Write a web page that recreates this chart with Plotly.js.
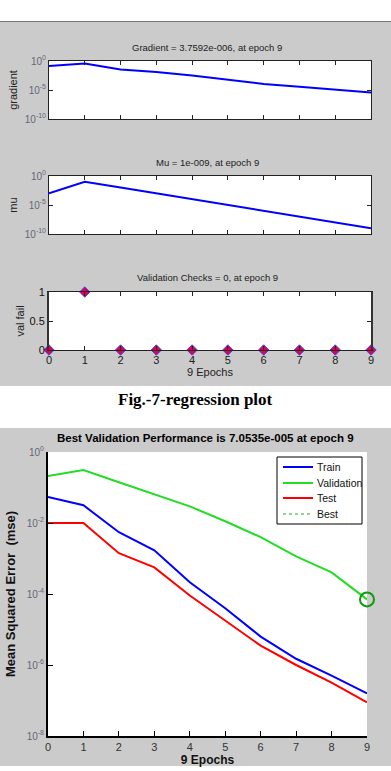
<!DOCTYPE html>
<html><head><meta charset="utf-8">
<script src="https://cdn.plot.ly/plotly-3.0.1.min.js"></script>
<style>html,body{margin:0;padding:0;background:#fff;}#chart{width:391px;height:771px;}</style>
</head><body><div id="chart"></div>
<script>
// ---- data ----
const epochs = [0,1,2,3,4,5,6,7,8,9];
const gradientVals = [0.14, 0.38, 0.035, 0.0126, 0.0032, 5.6e-4, 1.1e-4, 3.5e-5, 1.0e-5, 3.7592e-6];
const muVals = [1e-3, 1e-1, 1e-2, 1e-3, 1e-4, 1e-5, 1e-6, 1e-7, 1e-8, 1e-9];
const valFail = [0,1,0,0,0,0,0,0,0,0];
const trainPerf = [0.0537, 0.0316, 0.0055, 0.0017, 2.14e-4, 3.98e-5, 6.3e-6, 1.5e-6, 5.0e-7, 1.58e-7];
const validPerf = [0.209, 0.309, 0.141, 0.0646, 0.0295, 0.0112, 0.00398, 0.00115, 4.07e-4, 7.0535e-5];
const testPerf  = [0.01, 0.01, 0.00141, 5.6e-4, 9.1e-5, 1.78e-5, 3.5e-6, 1.0e-6, 3.2e-7, 8.9e-8];
const bestEpoch = 9;
const bestPerf = 7.0535e-5;
const seriesNames = ['Train', 'Validation', 'Test', 'Best'];
const seriesColors = ['#0000ff', '#22dd22', '#ff0000', '#22aa22'];
const logTickVals10 = [1, 1e-5, 1e-10];
const logTickText10 = ['10<sup>0</sup>', '10<sup>-5</sup>', '10<sup>-10</sup>'];
const perfTickVals = [1, 1e-2, 1e-4, 1e-6, 1e-8];
const perfTickText = ['10<sup>0</sup>', '10<sup>-2</sup>', '10<sup>-4</sup>', '10<sup>-6</sup>', '10<sup>-8</sup>'];
const valTickVals = [0, 0.5, 1];
const valTickText = ['0', '0.5', '1'];
const epochTicks = [0,1,2,3,4,5,6,7,8,9];

// ---- layout helpers ----
const W = 391, H = 771;
const fx = x => x / W;
const fy = y => 1 - y / H;
const SANS = "'Liberation Sans', Arial, sans-serif";

const traces = [
  {x: epochs, y: gradientVals, xaxis:'x', yaxis:'y', mode:'lines', line:{color:'#0000ff', width:2}, showlegend:false},
  {x: epochs, y: muVals, xaxis:'x2', yaxis:'y2', mode:'lines', line:{color:'#0000ff', width:2}, showlegend:false},
  {x: epochs, y: valFail, xaxis:'x3', yaxis:'y3', mode:'markers', cliponaxis:false,
   marker:{symbol:'diamond', size:8, color:'#e0004e', line:{color:'#4040ff', width:1}}, showlegend:false},
  {x: epochs, y: trainPerf, xaxis:'x4', yaxis:'y4', mode:'lines', name:seriesNames[0], line:{color:seriesColors[0], width:2}, showlegend:false},
  {x: epochs, y: validPerf, xaxis:'x4', yaxis:'y4', mode:'lines', name:seriesNames[1], line:{color:seriesColors[1], width:2}, showlegend:false},
  {x: epochs, y: testPerf, xaxis:'x4', yaxis:'y4', mode:'lines', name:seriesNames[2], line:{color:seriesColors[2], width:2}, showlegend:false},
  {x: [bestEpoch], y: [bestPerf], xaxis:'x4', yaxis:'y4', mode:'markers', name:seriesNames[3], showlegend:false, cliponaxis:false,
   marker:{symbol:'circle-open', size:14, color:'#119911', line:{width:2}}}
];

const topAxisX = (dom, y, showLabels) => ({
  domain: dom, anchor: y, range:[0,9], showgrid:false, zeroline:false, showline:true, linecolor:'#222', linewidth:1,
  mirror:'ticks', ticks:'inside', ticklen:4, tickcolor:'#222', tickvals: epochTicks,
  showticklabels: showLabels, ticktext: epochTicks.map(String),
  tickfont:{family:SANS, size:11, color:'#222'}
});
const logY = (dom, x, title) => ({
  domain: dom, anchor: x, type:'log', range:[-10, 0], showgrid:false, zeroline:false, showline:true,
  linecolor:'#222', linewidth:1, mirror:'ticks', ticks:'inside', ticklen:4, tickcolor:'#222',
  tickvals: logTickVals10, ticktext: logTickText10,
  tickfont:{family:SANS, size:10, color:'#667'},
  title:{text:title, font:{family:SANS, size:11, color:'#222'}, standoff:4}
});

// manual legend box (MATLAB-style compact legend)
const legX0 = 277, legX1 = 362, legY0 = 457, legY1 = 524;
const legRowY = [467, 483, 498, 514];
const legShapes = [
  {type:'rect', xref:'paper', yref:'paper', x0:fx(legX0), x1:fx(legX1), y0:fy(legY1), y1:fy(legY0),
   fillcolor:'#ffffff', line:{color:'#000', width:1}}
];
const legAnn = [];
seriesNames.forEach((n, i) => {
  legShapes.push({type:'line', xref:'paper', yref:'paper', x0:fx(283), x1:fx(313), y0:fy(legRowY[i]), y1:fy(legRowY[i]),
    line:{color:seriesColors[i], width: i === 3 ? 1 : 2, dash: i === 3 ? 'dot' : 'solid'}});
  legAnn.push({xref:'paper', yref:'paper', x:fx(315), y:fy(legRowY[i]), xanchor:'left', yanchor:'middle',
    text:n, showarrow:false, font:{family:SANS, size:10.5, color:'#111'}});
});

const layout = {
  width: W, height: H, margin:{l:0, r:0, t:0, b:0},
  paper_bgcolor:'#cbcbcb', plot_bgcolor:'#ffffff',
  font:{family:SANS, color:'#222'},
  showlegend:false,
  xaxis: topAxisX([fx(49), fx(371)], 'y', false),
  yaxis: logY([fy(119), fy(61)], 'x', 'gradient'),
  xaxis2: topAxisX([fx(49), fx(371)], 'y2', false),
  yaxis2: logY([fy(234), fy(176)], 'x2', 'mu'),
  xaxis3: Object.assign(topAxisX([fx(49), fx(371)], 'y3', true),
          {title:{text:'9 Epochs', font:{family:SANS, size:11, color:'#222'}, standoff:2}}),
  yaxis3: {domain:[fy(350), fy(292)], anchor:'x3', range:[0,1], showgrid:false, zeroline:false, showline:true,
           linecolor:'#333', linewidth:2, mirror:'ticks', ticks:'inside', ticklen:4, tickcolor:'#222',
           tickvals: valTickVals, ticktext: valTickText,
           tickfont:{family:SANS, size:11, color:'#111'},
           title:{text:'val fail', font:{family:SANS, size:11, color:'#222'}, standoff:3}},
  xaxis4: {domain:[fx(48), fx(367)], anchor:'y4', range:[0,9], showgrid:false, zeroline:false, showline:true,
           linecolor:'#000', linewidth:2, ticks:'inside', ticklen:5, tickcolor:'#000', tickvals: epochTicks,
           tickfont:{family:SANS, size:11, color:'#333'},
           title:{text:'<b>9 Epochs</b>', font:{family:SANS, size:12, color:'#111'}, standoff:2}},
  yaxis4: {domain:[fy(736), fy(452)], anchor:'x4', type:'log', range:[-8, 0], showgrid:false, zeroline:false,
           showline:true, linecolor:'#000', linewidth:2, ticks:'inside', ticklen:5, tickcolor:'#000',
           tickvals: perfTickVals, ticktext: perfTickText,
           tickfont:{family:SANS, size:10, color:'#667'},
           title:{text:'<b>Mean Squared Error  (mse)</b>', font:{family:SANS, size:13, color:'#111'}, standoff:8}},
  shapes: [
    {type:'rect', xref:'paper', yref:'paper', x0:0, x1:1, y0:fy(0), y1:fy(21), fillcolor:'#ffffff', line:{width:0}, layer:'below'},
    {type:'rect', xref:'paper', yref:'paper', x0:0, x1:1, y0:fy(386), y1:fy(428), fillcolor:'#ffffff', line:{width:0}, layer:'below'},
    {type:'rect', xref:'paper', yref:'paper', x0:0, x1:1, y0:fy(766), y1:fy(771), fillcolor:'#ffffff', line:{width:0}, layer:'below'},
    {type:'line', xref:'paper', yref:'paper', x0:0, x1:1, y0:fy(21.5), y1:fy(21.5), line:{color:'#777', width:1}}
  ].concat(legShapes),
  annotations: [
    {xref:'paper', yref:'paper', x: fx(207), y: fy(47), xanchor:'center', yanchor:'middle',
     text:'Gradient = 3.7592e-006, at epoch 9', showarrow:false, font:{family:SANS, size:9.5, color:'#222'}},
    {xref:'paper', yref:'paper', x: fx(207), y: fy(162), xanchor:'center', yanchor:'middle',
     text:'Mu = 1e-009, at epoch 9', showarrow:false, font:{family:SANS, size:9.5, color:'#222'}},
    {xref:'paper', yref:'paper', x: fx(207), y: fy(277), xanchor:'center', yanchor:'middle',
     text:'Validation Checks = 0, at epoch 9', showarrow:false, font:{family:SANS, size:9.5, color:'#222'}},
    {xref:'paper', yref:'paper', x: 0.5, y: fy(399), xanchor:'center', yanchor:'middle',
     text:'<b>Fig.-7-regression plot</b>', showarrow:false,
     font:{family:"'Liberation Serif', 'Times New Roman', serif", size:17, color:'#000'}},
    {xref:'paper', yref:'paper', x: fx(206), y: fy(438), xanchor:'center', yanchor:'middle',
     text:'<b>Best Validation Performance is 7.0535e-005 at epoch 9</b>', showarrow:false,
     font:{family:SANS, size:11.5, color:'#000'}}
  ].concat(legAnn)
};

Plotly.newPlot('chart', traces, layout, {displayModeBar:false, staticPlot:true});
</script>
</body></html>
